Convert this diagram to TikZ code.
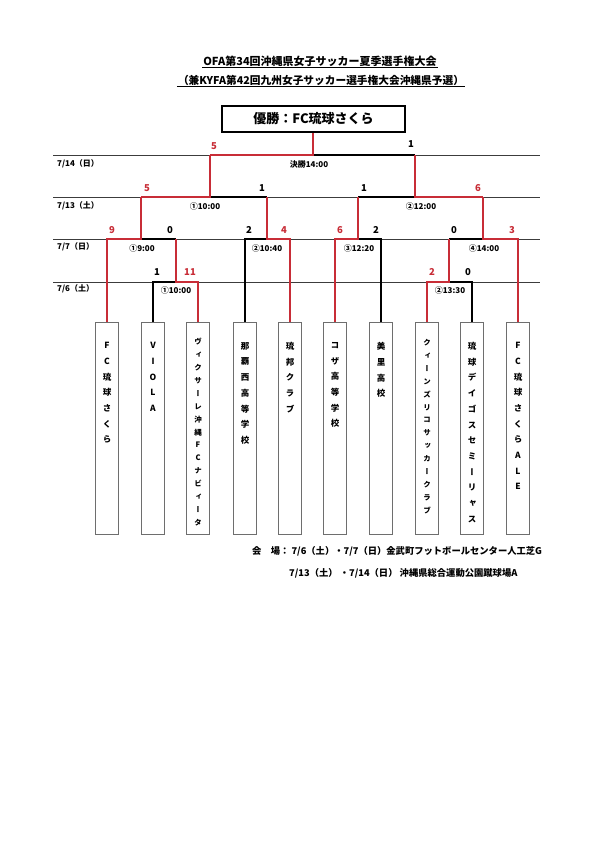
\documentclass[tikz,border=0pt]{standalone}
\usepackage{fontspec}
\setmainfont{Noto Sans CJK JP}
\newfontfamily\vjp{Noto Sans CJK JP}[RawFeature=+vert]
\definecolor{wred}{RGB}{200,45,55}
\definecolor{dline}{RGB}{60,60,60}
\definecolor{boxgray}{RGB}{110,110,110}
\def\vst#1{\vstA#1\relax}
\def\vstA#1{#1\vstB}
\def\vstB#1{\ifx#1\relax\else\\#1\expandafter\vstB\fi}
\tikzset{
  dayline/.style={draw=dline, line width=0.9pt},
  blk/.style={draw=black, line width=1.1pt},
  rd/.style={draw=wred, line width=1.1pt},
  teambox/.style={draw=boxgray, line width=0.8pt, minimum width=23pt, minimum height=212pt, inner sep=0pt},
  tname/.style={font=\vjp\bfseries\fontsize{8.5}{15.7}\selectfont, align=center, inner sep=0pt, anchor=north},
  tnamesm/.style={font=\vjp\bfseries\fontsize{7.5}{12.9}\selectfont, align=center, inner sep=0pt, anchor=north},
  score/.style={font=\bfseries\fontsize{9.5}{10}\selectfont, inner sep=0pt},
  rscore/.style={score, text=wred},
  mlabel/.style={font=\bfseries\fontsize{8}{9}\selectfont, inner sep=0pt},
  dlabel/.style={font=\bfseries\fontsize{8}{9}\selectfont, anchor=west, inner sep=0pt},
  title/.style={font=\bfseries\fontsize{11}{12}\selectfont, inner sep=1pt},
  foot/.style={font=\bfseries\fontsize{9.3}{10}\selectfont, anchor=west, inner sep=0pt},
}
\begin{document}
\begin{tikzpicture}[x=1pt,y=-1pt]
\useasboundingbox[fill=white] (0,0) rectangle (595,841);

% titles
\node[title] (ti1) at (320,61) {OFA第34回沖縄県女子サッカー夏季選手権大会};
\draw[line width=0.8pt] (ti1.south west) -- (ti1.south east);
\node[title, font=\bfseries\fontsize{10.7}{12}\selectfont] (ti2) at (321,80) {（兼KYFA第42回九州女子サッカー選手権大会沖縄県予選）};
\draw[line width=0.8pt] (ti2.south west) -- (ti2.south east);

% winner
\node[draw=black, line width=1.4pt, minimum width=183pt, minimum height=26pt, font=\bfseries\fontsize{13}{14}\selectfont] (win) at (313.5,119) {優勝：FC琉球さくら};

% day lines
\coordinate (d14a) at (53,155); \coordinate (d14b) at (540,155);
\coordinate (d13a) at (53,197); \coordinate (d13b) at (540,197);
\coordinate (d7a) at (53,239); \coordinate (d7b) at (540,239);
\coordinate (d6a) at (53,282); \coordinate (d6b) at (540,282);
\draw[dayline] (d14a) -- (d14b);
\draw[dayline] (d13a) -- (d13b);
\draw[dayline] (d7a) -- (d7b);
\draw[dayline] (d6a) -- (d6b);
\node[dlabel] (l14) at (57,164) {7/14（日）};
\node[dlabel] (l13) at (57,206) {7/13（土）};
\node[dlabel] (l7) at (57,247) {7/7（日）};
\node[dlabel] (l6) at (57,289) {7/6（土）};

% team boxes
\node[teambox] (b1) at (107,428) {};
\node[teambox] (b2) at (153,428) {};
\node[teambox] (b3) at (198,428) {};
\node[teambox] (b4) at (245,428) {};
\node[teambox] (b5) at (290,428) {};
\node[teambox] (b6) at (335,428) {};
\node[teambox] (b7) at (381,428) {};
\node[teambox] (b8) at (427,428) {};
\node[teambox] (b9) at (472,428) {};
\node[teambox] (b10) at (518,428) {};
\node[tname] (n1) at ([yshift=-20.5pt]b1.north) {\vst{FC琉球さくら}};
\node[tname] (n2) at ([yshift=-20.5pt]b2.north) {\vst{VIOLA}};
\node[tnamesm] (n3) at ([yshift=-16.5pt]b3.north) {\vst{ヴィクサーレ沖縄FCナビィータ}};
\node[tname] (n4) at ([yshift=-20.5pt]b4.north) {\vst{那覇西高等学校}};
\node[tname] (n5) at ([yshift=-20.5pt]b5.north) {\vst{琉邦クラブ}};
\node[tname] (n6) at ([yshift=-20.5pt]b6.north) {\vst{コザ高等学校}};
\node[tname] (n7) at ([yshift=-20.5pt]b7.north) {\vst{美里高校}};
\node[tnamesm] (n8) at ([yshift=-17.5pt]b8.north) {\vst{クィーンズリコサッカークラブ}};
\node[tname] (n9) at ([yshift=-20.5pt]b9.north) {\vst{琉球デイゴスセミーリャス}};
\node[tname] (n10) at ([yshift=-20.5pt]b10.north) {\vst{FC琉球さくらALE}};

% junctions
\coordinate (ja) at (176,282);  % 7/6 (1)
\coordinate (jb) at (449,282);  % 7/6 (2)
\coordinate (jc) at (141,239);  % 7/7 (1)
\coordinate (jd) at (267,239);  % 7/7 (2)
\coordinate (je) at (358,239);  % 7/7 (3)
\coordinate (jf) at (483,239);  % 7/7 (4)
\coordinate (jg) at (210,197);  % 7/13 (1)
\coordinate (jh) at (415,197);  % 7/13 (2)
\coordinate (ji) at (313,155);  % final

% black (losing) paths
\draw[blk] (b2.north) |- (ja);
\draw[blk] (ja |- jc) -- (jc);
\draw[blk] (b4.north) |- (jd);
\draw[blk] (jd |- jg) -- (jg);
\draw[blk] (b7.north) |- (je);
\draw[blk] (b9.north) |- (jb);
\draw[blk] (jb |- jf) -- (jf);
\draw[blk] (je |- jh) -- (jh);
\draw[blk] (jh |- ji) -- (ji);

% red (winning) paths
\draw[rd] (b3.north) |- (ja) -- (ja |- jc);
\draw[rd] (b1.north) |- (jc) -- (jc |- jg);
\draw[rd] (b5.north) |- (jd) -- (jd |- jg);
\draw[rd] (jc |- jg) -- (jg) -- (jg |- ji);
\draw[rd] (b6.north) |- (je) -- (je |- jh);
\draw[rd] (b8.north) |- (jb) -- (jb |- jf);
\draw[rd] (b10.north) |- (jf) -- (jf |- jh);
\draw[rd] (jf |- jh) -- (jh) -- (jh |- ji);
\draw[rd] (jg |- ji) -- (ji) -- (ji |- win.south);

% match labels
\node[mlabel] (m0) at (309,164) {決勝14:00};
\node[mlabel] (m1) at (205,206) {①10:00};
\node[mlabel] (m2) at (421,206) {②12:00};
\node[mlabel] (m3) at (142,248) {①9:00};
\node[mlabel] (m4) at (267,248) {②10:40};
\node[mlabel] (m5) at (359,248) {③12:20};
\node[mlabel] (m6) at (484,248) {④14:00};
\node[mlabel] (m7) at (176,290) {①10:00};
\node[mlabel] (m8) at (450,290) {②13:30};

% scores
\node[rscore] (s1) at (214,146) {5};
\node[score] (s2) at (411,144) {1};
\node[rscore] (s3) at (147,188) {5};
\node[score] (s4) at (262,188) {1};
\node[score] (s5) at (364,188) {1};
\node[rscore] (s6) at (478,188) {6};
\node[rscore] (s7) at (112,230) {9};
\node[score] (s8) at (170,230) {0};
\node[score] (s9) at (249,230) {2};
\node[rscore] (s10) at (284,230) {4};
\node[rscore] (s11) at (340,230) {6};
\node[score] (s12) at (376,230) {2};
\node[score] (s13) at (454,230) {0};
\node[rscore] (s14) at (512,230) {3};
\node[score] (s15) at (157,272) {1};
\node[rscore] (s16) at (190,272) {11};
\node[rscore] (s17) at (432,272) {2};
\node[score] (s18) at (468,272) {0};

% footer
\node[foot] (f1) at (252,551) {会　場：\ 7/6（土）・7/7（日）金武町フットボールセンター人工芝G};
\node[foot] (f2) at (289,573) {7/13（土）\ ・7/14（日）\ 沖縄県総合運動公園蹴球場A};
\end{tikzpicture}
\end{document}
